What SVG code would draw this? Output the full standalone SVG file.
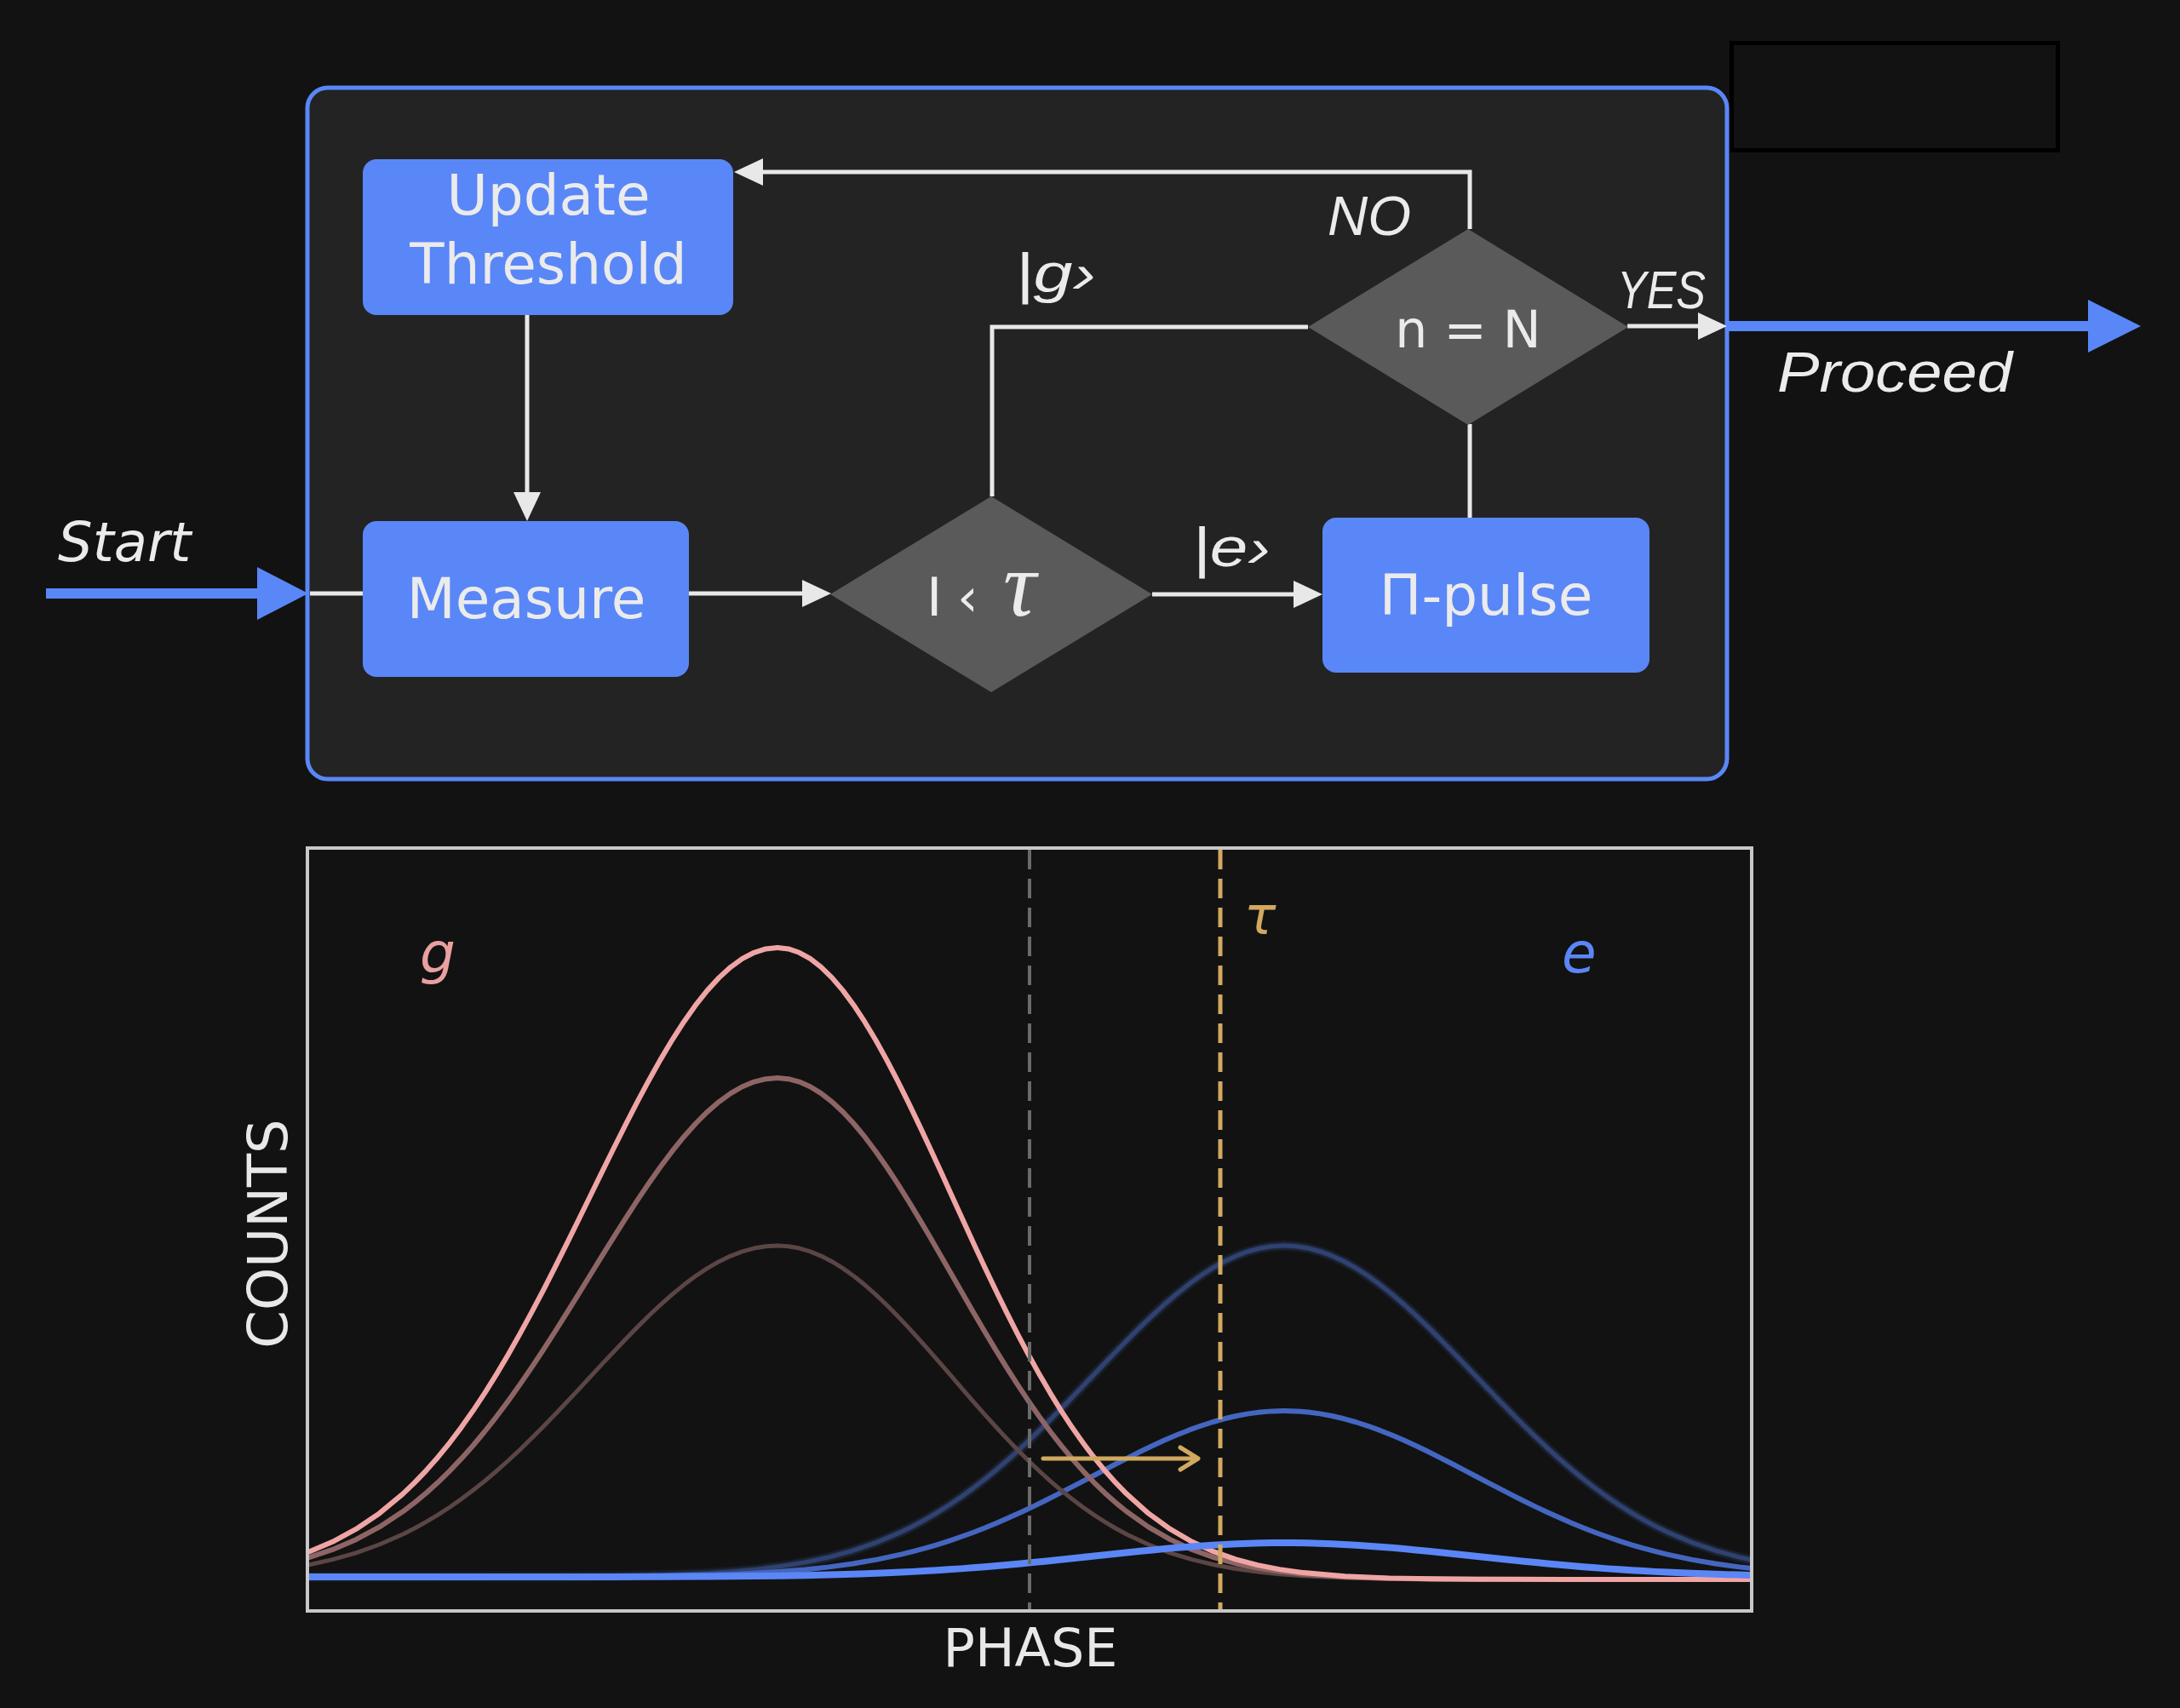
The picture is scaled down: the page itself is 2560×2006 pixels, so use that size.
<svg xmlns="http://www.w3.org/2000/svg" width="2560" height="2006" viewBox="0 0 2560 2006">
<style>
.box{fill:#5a87f7}
.dia{fill:#5a5a5a}
.lbl{font-family:"DejaVu Sans",sans-serif;fill:#ebebeb}
.it{font-family:"Liberation Sans",Arial,sans-serif;font-style:italic;fill:#ebebeb}
.con{fill:none;stroke:#e8e8e8;stroke-width:5}
.curve{fill:none;stroke-linejoin:round;stroke-linecap:round}
</style>
<defs>
<marker id="ah" markerUnits="userSpaceOnUse" markerWidth="34" markerHeight="34" refX="26" refY="16" orient="auto">
<path d="M0,0 L34,16 L0,32 z" fill="#e8e8e8"/>
</marker>
<path id="gh" vector-effect="non-scaling-stroke" d="M0,-1 L0.0625,-0.99805 L0.125,-0.99222 L0.1875,-0.98258 L0.25,-0.96923 L0.3125,-0.95234 L0.375,-0.9321 L0.4375,-0.90874 L0.5,-0.8825 L0.5625,-0.85368 L0.625,-0.82258 L0.6875,-0.78953 L0.75,-0.75484 L0.8125,-0.71887 L0.875,-0.68194 L0.9375,-0.64439 L1,-0.60653 L1.0625,-0.56867 L1.125,-0.5311 L1.1875,-0.49407 L1.25,-0.45783 L1.3125,-0.4226 L1.375,-0.38856 L1.4375,-0.35587 L1.5,-0.32465 L1.5625,-0.29502 L1.625,-0.26705 L1.6875,-0.24079 L1.75,-0.21627 L1.8125,-0.19348 L1.875,-0.17243 L1.9375,-0.15306 L2,-0.13534 L2.125,-0.10458 L2.25,-0.07956 L2.375,-0.05959 L2.5,-0.04394 L2.625,-0.03191 L2.75,-0.02279 L2.875,-0.01604 L3,-0.01111 L3.25,-0.00509 L3.5,-0.00219 L3.75,-0.00088 L4,-0.00034 L4.5,-0.00004 L6,0 L9,0"/>
<clipPath id="plotclip"><rect x="363" y="998" width="1692" height="892"/></clipPath>
<filter id="glow" x="-5%" y="-5%" width="110%" height="110%"><feGaussianBlur stdDeviation="1.5"/></filter>
</defs>
<rect x="0" y="0" width="2560" height="2006" fill="#121212"/>

<g id="frame">
<rect x="361" y="103" width="1667" height="812" rx="24" fill="#232323" stroke="#5a87f7" stroke-width="5"/>
<rect x="2033.5" y="50.5" width="383" height="126" fill="#121212" stroke="#000" stroke-width="5"/>
</g>

<g id="connectors">
<path class="con" d="M364,697 H426"/>
<path class="con" d="M809,697 H968" marker-end="url(#ah)"/>
<path class="con" d="M1353,698 H1545" marker-end="url(#ah)"/>
<path class="con" d="M1165,583 V384 H1536"/>
<path class="con" d="M1726,608 V498"/>
<path class="con" d="M1726,269 V202 H870" marker-end="url(#ah)"/>
<path class="con" d="M619,370 V604" marker-end="url(#ah)"/>
<path class="con" d="M1911,383 H2020" marker-end="url(#ah)"/>
<path d="M54,691 H302 V666 L362,697 L302,728 V703 H54 Z" fill="#5a87f7"/>
<path d="M2030,377 H2452 V352 L2514,383 L2452,414 V389 H2030 Z" fill="#5a87f7"/>
<text class="it" x="1192" y="343" font-size="64" textLength="95" lengthAdjust="spacingAndGlyphs">|g›</text>
<text class="it" x="1400" y="665" font-size="64" textLength="92" lengthAdjust="spacingAndGlyphs">|e›</text>
<text class="it" x="1559" y="276" font-size="64" textLength="98" lengthAdjust="spacingAndGlyphs">NO</text>
<text class="it" x="1899" y="362" font-size="63" textLength="104" lengthAdjust="spacingAndGlyphs">YES</text>
</g>

<g id="start">
<text x="68" y="659" font-family="DejaVu Sans,sans-serif" font-style="italic" font-size="64" fill="#ebebeb">Start</text>
</g>
<g id="proceed">
<text class="it" x="2087" y="460" font-size="66" textLength="276" lengthAdjust="spacingAndGlyphs">Proceed</text>
</g>

<g id="update-threshold">
<rect class="box" x="426" y="187" width="435" height="183" rx="16"/>
<text class="lbl" x="644" y="252" font-size="66" text-anchor="middle">Update</text>
<text class="lbl" x="644" y="333" font-size="66" text-anchor="middle">Threshold</text>
</g>

<g id="measure">
<rect class="box" x="426" y="612" width="383" height="183" rx="16"/>
<text class="lbl" x="618" y="726" font-size="66" text-anchor="middle">Measure</text>
</g>

<g id="decision-threshold">
<path class="dia" d="M1164,583 L1353,698 L1164,813 L975,698 Z"/>
<text class="lbl" font-size="62" y="723"><tspan x="1088">I</tspan><tspan x="1124">‹</tspan><tspan x="1178" font-family="Liberation Serif,serif" font-style="italic" font-size="108">τ</tspan></text>
</g>

<g id="pi-pulse">
<rect class="box" x="1553" y="608" width="384" height="182" rx="16"/>
<text class="lbl" x="1745" y="722" font-size="66" text-anchor="middle">Π-pulse</text>
</g>

<g id="decision-count">
<path class="dia" d="M1724,269 L1912,384 L1724,499 L1536,384 Z"/>
<text class="lbl" x="1724" y="408" font-size="60" text-anchor="middle">n = N</text>
</g>

<g id="plot">
<rect x="361" y="996" width="1696" height="896" fill="#121212" stroke="#c8c8c8" stroke-width="4"/>
<g clip-path="url(#plotclip)">
<g filter="url(#glow)" opacity="0.55">
<use href="#gh" class="curve" stroke="#2f4270" stroke-width="9" transform="translate(1508,1852) scale(-225,389)"/>
<use href="#gh" class="curve" stroke="#2f4270" stroke-width="9" transform="translate(1508,1852) scale(225,389)"/>
</g>
<use href="#gh" class="curve" stroke="#2f4270" stroke-width="5" transform="translate(1508,1852) scale(-225,389)"/>
<use href="#gh" class="curve" stroke="#2f4270" stroke-width="5" transform="translate(1508,1852) scale(225,389)"/>
<use href="#gh" class="curve" stroke="#4466c0" stroke-width="6" transform="translate(1508,1852) scale(-225,195)"/>
<use href="#gh" class="curve" stroke="#4466c0" stroke-width="6" transform="translate(1508,1852) scale(225,195)"/>
<use href="#gh" class="curve" stroke="#5b4545" stroke-width="5" transform="translate(913,1855) scale(-220,392)"/>
<use href="#gh" class="curve" stroke="#5b4545" stroke-width="5" transform="translate(913,1855) scale(205,392)"/>
<use href="#gh" class="curve" stroke="#8e6565" stroke-width="6" transform="translate(913,1855) scale(-220,589)"/>
<use href="#gh" class="curve" stroke="#8e6565" stroke-width="6" transform="translate(913,1855) scale(205,589)"/>
<use href="#gh" class="curve" stroke="#f0a5a5" stroke-width="6" transform="translate(913,1855) scale(-220,742)"/>
<use href="#gh" class="curve" stroke="#f0a5a5" stroke-width="6" transform="translate(913,1855) scale(205,742)"/>
<use href="#gh" class="curve" stroke="#5b86f5" stroke-width="8" transform="translate(1508,1852) scale(-225,40)"/>
<use href="#gh" class="curve" stroke="#5b86f5" stroke-width="8" transform="translate(1508,1852) scale(225,40)"/>
</g>
<line x1="1209" y1="998" x2="1209" y2="1890" stroke="#6a6a6a" stroke-width="4" stroke-dasharray="23 11"/>
<line x1="1433" y1="998" x2="1433" y2="1890" stroke="#d1a95f" stroke-width="5" stroke-dasharray="23 11"/>
<path d="M1225,1713 H1405 M1386,1700 L1407,1713 L1386,1726" fill="none" stroke="#d1a95f" stroke-width="5" stroke-linecap="round" stroke-linejoin="round"/>
<text x="493" y="1142" font-family="DejaVu Sans,sans-serif" font-style="italic" font-size="66" fill="#eaa0a0">g</text>
<text x="1461" y="1097" font-family="DejaVu Sans,sans-serif" font-style="italic" font-size="62" fill="#d1a95f">τ</text>
<text x="1834" y="1142" font-family="DejaVu Sans,sans-serif" font-style="italic" font-size="66" fill="#5b86f5">e</text>
<text x="1210" y="1957" font-family="DejaVu Sans,sans-serif" font-size="62" fill="#e8e8e8" text-anchor="middle">PHASE</text>
<text transform="translate(337,1449) rotate(-90)" font-family="DejaVu Sans,sans-serif" font-size="64" fill="#e8e8e8" text-anchor="middle">COUNTS</text>
</g>
</svg>
